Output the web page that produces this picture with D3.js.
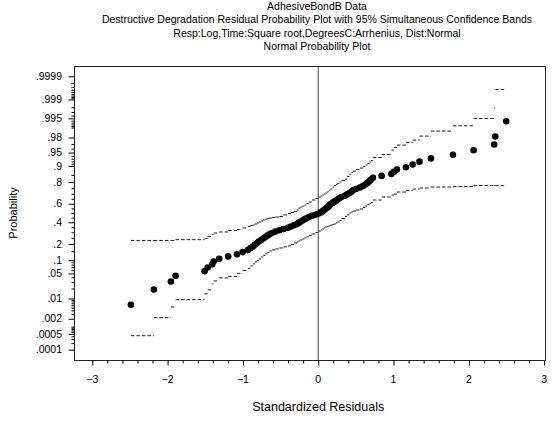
<!DOCTYPE html>
<html><head><meta charset="utf-8">
<script src="https://cdn.jsdelivr.net/npm/d3@7"></script>
<style>
body{margin:0;background:#fff}
svg{display:block}
text{font-family:"Liberation Sans",Arial,sans-serif;fill:#000}
</style>
</head><body>
<svg id="chart" width="554" height="422"></svg>
<script>
// ---------- data ----------
const titleLines = [
  "AdhesiveBondB Data",
  "Destructive Degradation Residual Probability Plot with 95% Simultaneous Confidence Bands",
  "Resp:Log,Time:Square root,DegreesC:Arrhenius, Dist:Normal",
  "Normal Probability Plot"
];
const xLabel = "Standardized Residuals";
const yLabel = "Probability";

const xTicks = [-3, -2, -1, 0, 1, 2, 3];
const xMinorTicks = [-2.8,-2.6,-2.4,-2.2,-1.8,-1.6,-1.4,-1.2,-0.8,-0.6,-0.4,-0.2,0.2,0.4,0.6,0.8,1.2,1.4,1.6,1.8,2.2,2.4,2.6,2.8];

const probTicks = [0.0001,0.0005,0.002,0.01,0.05,0.1,0.2,0.4,0.6,0.8,0.9,0.95,0.98,0.995,0.999,0.9999];
const probTickLabels = [".0001",".0005",".002",".01",".05",".1",".2",".4",".6",".8",".9",".95",".98",".995",".999",".9999"];
const probMinorTicks = [0.0002,0.0003,0.0004,0.0006,0.0007,0.0008,0.0009,0.001,0.003,0.004,0.005,0.006,0.007,0.008,0.009,
  0.02,0.03,0.04,0.06,0.07,0.08,0.09,0.15,0.25,0.3,0.35,0.45,0.5,0.55,0.65,0.7,0.75,0.85,
  0.91,0.92,0.93,0.94,0.96,0.97,0.99,0.991,0.992,0.993,0.994,0.996,0.997,0.998,0.9991,0.9992,0.9993,0.9994,0.9995,0.9996,0.9997,0.9998];

// sorted standardized residuals
const residuals = [-2.487,-2.182,-1.956,-1.894,-1.509,-1.469,-1.408,-1.389,-1.315,-1.195,
  -1.080,-1.004,-0.934,-0.900,-0.867,-0.841,-0.814,-0.788,-0.757,-0.728,
  -0.701,-0.675,-0.648,-0.615,-0.568,-0.515,-0.462,-0.402,-0.363,-0.323,
  -0.283,-0.263,-0.236,-0.210,-0.183,-0.157,-0.124,-0.084,-0.037,0.003,
  0.036,0.056,0.076,0.096,0.116,0.135,0.149,0.162,0.189,0.209,
  0.235,0.255,0.282,0.308,0.355,0.381,0.414,0.441,0.461,0.501,
  0.554,0.594,0.627,0.653,0.680,0.700,0.726,0.842,0.972,1.005,
  1.045,1.165,1.254,1.345,1.497,1.789,2.064,2.337,2.351,2.497];
// plotting positions
const plotProbs = [0.00625,0.01875,0.03125,0.04375,0.05625,0.06875,0.08125,0.09375,0.10625,0.11875,
  0.13125,0.14375,0.15625,0.16875,0.18125,0.19375,0.20625,0.21875,0.23125,0.24375,
  0.25625,0.26875,0.28125,0.29375,0.30625,0.31875,0.33125,0.34375,0.35625,0.36875,
  0.38125,0.39375,0.40625,0.41875,0.43125,0.44375,0.45625,0.46875,0.48125,0.49375,
  0.50625,0.51875,0.53125,0.54375,0.55625,0.56875,0.58125,0.59375,0.60625,0.61875,
  0.63125,0.64375,0.65625,0.66875,0.68125,0.69375,0.70625,0.71875,0.73125,0.74375,
  0.75625,0.76875,0.78125,0.79375,0.80625,0.81875,0.83125,0.84375,0.85625,0.86875,
  0.88125,0.89375,0.90625,0.91875,0.93125,0.94375,0.95625,0.96875,0.98125,0.99375];
// simultaneous confidence band levels between consecutive residuals
const lowerBand = [0.00042,0.0022,0.0053,0.0092,0.0139,0.0182,0.0269,0.0323,0.0387,0.0422,
  0.0501,0.0591,0.0664,0.0749,0.0829,0.0915,0.0984,0.1056,0.1159,0.1240,
  0.1326,0.1416,0.1509,0.1574,0.1640,0.1708,0.1778,0.1849,0.1960,0.2075,
  0.2153,0.2233,0.2316,0.2398,0.2486,0.2572,0.2706,0.2840,0.2981,0.3124,
  0.3220,0.3318,0.3417,0.3520,0.3568,0.3620,0.3669,0.3722,0.3773,0.3825,
  0.3928,0.4032,0.4192,0.4408,0.4622,0.4785,0.5000,0.5108,0.5215,0.5325,
  0.5434,0.5592,0.5753,0.5913,0.6018,0.6122,0.6380,0.6682,0.6876,0.6971,
  0.7160,0.7294,0.7428,0.7514,0.7602,0.7642,0.7725,0.7725,0.7725];
const upperBand = [0.2275,0.2275,0.2275,0.2341,0.2442,0.2615,0.2796,0.2934,0.3029,0.3172,
  0.3270,0.3417,0.3568,0.3669,0.3722,0.3825,0.3928,0.4032,0.4141,0.4247,
  0.4353,0.4408,0.4459,0.4514,0.4566,0.4622,0.4785,0.4946,0.5054,0.5163,
  0.5325,0.5541,0.5647,0.5753,0.5859,0.6018,0.6175,0.6380,0.6532,0.6682,
  0.6780,0.6876,0.6971,0.7066,0.7160,0.7251,0.7340,0.7428,0.7600,0.7725,
  0.7807,0.7886,0.8001,0.8114,0.8222,0.8394,0.8554,0.8644,0.8731,0.8814,
  0.8893,0.8968,0.9039,0.9107,0.9171,0.9231,0.9342,0.9441,0.9565,0.9625,
  0.9677,0.9723,0.9764,0.9818,0.9871,0.9912,0.99496,0.99789,0.99961];

// ---------- helpers ----------
function qnorm(p){ // Acklam's inverse normal CDF
  const a=[-3.969683028665376e+01,2.209460984245205e+02,-2.759285104469687e+02,1.383577518672690e+02,-3.066479806614716e+01,2.506628277459239e+00];
  const b=[-5.447609879822406e+01,1.615858368580409e+02,-1.556989798598866e+02,6.680131188771972e+01,-1.328068155288572e+01];
  const c=[-7.784894002430293e-03,-3.223964580411365e-01,-2.400758277161838e+00,-2.549732539343734e+00,4.374664141464968e+00,2.938163982698783e+00];
  const d=[7.784695709041462e-03,3.224671290700398e-01,2.445134137142996e+00,3.754408661907416e+00];
  const pl=0.02425, ph=1-pl; let q,r;
  if(p<pl){q=Math.sqrt(-2*Math.log(p));return (((((c[0]*q+c[1])*q+c[2])*q+c[3])*q+c[4])*q+c[5])/((((d[0]*q+d[1])*q+d[2])*q+d[3])*q+1);}
  if(p<=ph){q=p-0.5;r=q*q;return (((((a[0]*r+a[1])*r+a[2])*r+a[3])*r+a[4])*r+a[5])*q/(((((b[0]*r+b[1])*r+b[2])*r+b[3])*r+b[4])*r+1);}
  q=Math.sqrt(-2*Math.log(1-p));return -(((((c[0]*q+c[1])*q+c[2])*q+c[3])*q+c[4])*q+c[5])/((((d[0]*q+d[1])*q+d[2])*q+d[3])*q+1);
}

// ---------- layout ----------
const svg = d3.select("#chart");
const L = 74, R = 546, T = 66, B = 360;
const x = d3.scaleLinear().domain([-3.243, 3.025]).range([L, R]);
const z = d3.scaleLinear().domain([-4, 4]).range([B, T]);
const yP = p => z(qnorm(p));

// titles
svg.append("g").selectAll("text").data(titleLines).join("text")
  .attr("x", 317).attr("y", (d,i) => 10 + i*13.4)
  .attr("text-anchor","middle").style("font-size","10.5px").text(d => d);

// confidence bands (step segments)
const seg = d3.line().x(d => x(d[0])).y(d => yP(d[1]));
function bandPath(band){
  return band.map((p,i) => seg([[residuals[i], p],[residuals[i+1], p]])).join("");
}
svg.append("g").selectAll("path").data([lowerBand, upperBand]).join("path")
  .attr("d", bandPath).attr("fill","none").attr("stroke","#222")
  .attr("stroke-width",1).attr("stroke-dasharray","3.5,2");

// zero reference line
svg.append("line").attr("x1", x(0)).attr("x2", x(0)).attr("y1", T).attr("y2", B)
  .attr("stroke","#444").attr("stroke-width",1);

// points
svg.append("g").selectAll("circle").data(residuals).join("circle")
  .attr("cx", d => x(d)).attr("cy", (d,i) => yP(plotProbs[i])).attr("r", 3.3).attr("fill","#000");

// frame
svg.append("rect").attr("x", L+0.5).attr("y", T+0.5).attr("width", R-L-1).attr("height", B-T)
  .attr("fill","none").attr("stroke","#222").attr("stroke-width",1);

// y axis ticks
const yAxisMajor = d3.axisLeft(z).tickValues(probTicks.map(qnorm)).tickSize(6).tickFormat("");
const yAxisMinor = d3.axisLeft(z).tickValues(probMinorTicks.map(qnorm)).tickSize(3).tickFormat("");
svg.append("g").attr("transform",`translate(${L+0.5},0)`).call(yAxisMajor).call(g=>g.select(".domain").remove());
svg.append("g").attr("transform",`translate(${L+0.5},0)`).call(yAxisMinor).call(g=>g.select(".domain").remove());
svg.append("g").selectAll("text").data(probTicks).join("text")
  .attr("x", 62).attr("y", d => yP(d)).attr("dy","0.35em").attr("text-anchor","end")
  .style("font-size","10.5px").text((d,i) => probTickLabels[i]);

// x axis ticks
const xAxisMajor = d3.axisBottom(x).tickValues(xTicks).tickSize(5).tickFormat("");
const xAxisMinor = d3.axisBottom(x).tickValues(xMinorTicks).tickSize(3).tickFormat("");
svg.append("g").attr("transform",`translate(0,${B+0.5})`).call(xAxisMajor).call(g=>g.select(".domain").remove());
svg.append("g").attr("transform",`translate(0,${B+0.5})`).call(xAxisMinor).call(g=>g.select(".domain").remove());
svg.append("g").selectAll("text").data(xTicks).join("text")
  .attr("x", d => x(d)).attr("y", 383).attr("text-anchor","middle")
  .style("font-size","10.5px").text(d => d < 0 ? "\u2212" + Math.abs(d) : String(d));

// axis titles
svg.append("text").attr("x", x(0)).attr("y", 411).attr("text-anchor","middle")
  .style("font-size","12.5px").text(xLabel);
svg.append("text").attr("transform","translate(17,213) rotate(-90)").attr("text-anchor","middle")
  .style("font-size","11px").text(yLabel);
</script>
</body></html>
